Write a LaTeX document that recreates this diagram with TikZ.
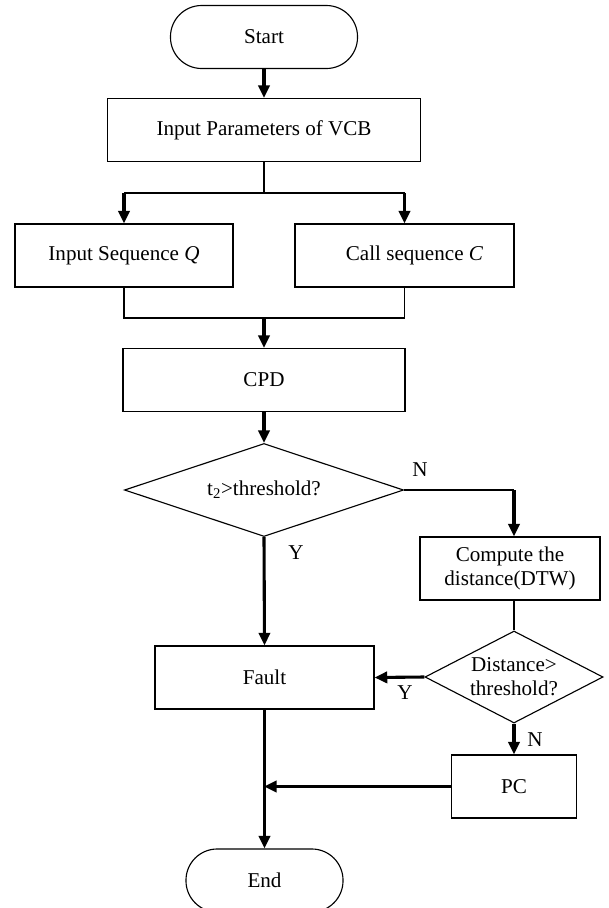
\documentclass[tikz,border=0pt]{standalone}
\usepackage{fontspec}
\setmainfont{Liberation Serif}
\usepackage{tikz}
\usetikzlibrary{shapes.geometric, arrows.meta, positioning, calc}

\begin{document}
\begin{tikzpicture}[
    x=0.025cm, y=-0.025cm,
    font=\fontsize{15pt}{17pt}\selectfont,
    box/.style={rectangle, draw, line width=0.8pt, minimum height=1.575cm,
                inner sep=2pt, align=center},
    terminal/.style={rectangle, draw, line width=0.8pt, rounded corners=0.78cm,
                     minimum height=1.575cm},
    decision/.style={diamond, draw, line width=0.8pt, inner sep=0pt,
                     align=center},
    link/.style={line width=0.8pt},
    flow/.style={line width=2.2pt, -{Triangle[width=8pt,length=9pt]}},
    lbl/.style={inner sep=0pt},
]
\useasboundingbox (0,0) rectangle (608,908);
% Nodes
\node[terminal, minimum width=4.675cm] (start) at (264,37) {Start};
\node[box, minimum width=7.825cm] (params) at (264,130) {Input Parameters of VCB};
\node[box, minimum width=5.45cm] (inq) at (124,255.5) {Input Sequence \textit{Q}};
\node[box, minimum width=5.475cm] (callc) at (404.5,255.5) {\hspace{0.5cm}Call sequence \textit{C}};
\node[box, minimum width=7.05cm] (cpd) at (264,380) {CPD};
\node[decision, aspect=3, minimum width=6.975cm, minimum height=2.325cm] (thr) at (264,490) {t\textsubscript{2}>threshold?};
\node[box, minimum width=4.5cm] (dtw) at (510,568.5) {Compute the\\distance(DTW)};
\node[decision, aspect=1.93, minimum width=4.45cm, minimum height=2.3cm] (dist) at (514,677) {Distance>\\threshold?};
\node[box, minimum width=5.475cm] (fault) at (264.5,677.5) {Fault};
\node[box, minimum width=3.125cm] (pc) at (514,786.5) {PC};
\node[terminal, minimum width=3.925cm] (end) at (264.5,880.5) {End};
% Join points
\coordinate (split) at (264,193);
\coordinate (merge) at (264,318);
\coordinate (turn) at (514,490);
\coordinate (meet) at (264,786.5);
% Connectors
\draw[flow] (start) -- (params);
\draw[link] (params) -- (split);
\draw[link] (inq.north |- split) -- (callc.north |- split);
\draw[flow] (inq.north |- split) -- (inq);
\draw[flow] (callc.north |- split) -- (callc);
\draw[link] (inq.south) -- (inq.south |- merge) -- (callc.south |- merge) -- (callc.south);
\draw[flow] (merge) -- (cpd);
\draw[flow] (cpd) -- (thr);
\draw[link] (thr.east) -- (turn);
\draw[flow] (turn) -- (dtw.north -| turn);
\draw[link] (dtw.south -| dist) -- (dist.north);
\draw[flow] (thr.south) -- (fault.north);
\draw[flow] (dist.west) -- (fault.east);
\draw[flow] (dist.south) -- (pc.north);
\draw[flow] (pc.west) -- (meet);
\draw[flow] (fault.south) -- (end.north);
% Branch labels
\node[lbl] (n1) at (420,470) {N};
\node[lbl] (y1) at (296,553) {Y};
\node[lbl] (y2) at (405,693) {Y};
\node[lbl] (n2) at (535,740) {N};
\end{tikzpicture}
\end{document}
